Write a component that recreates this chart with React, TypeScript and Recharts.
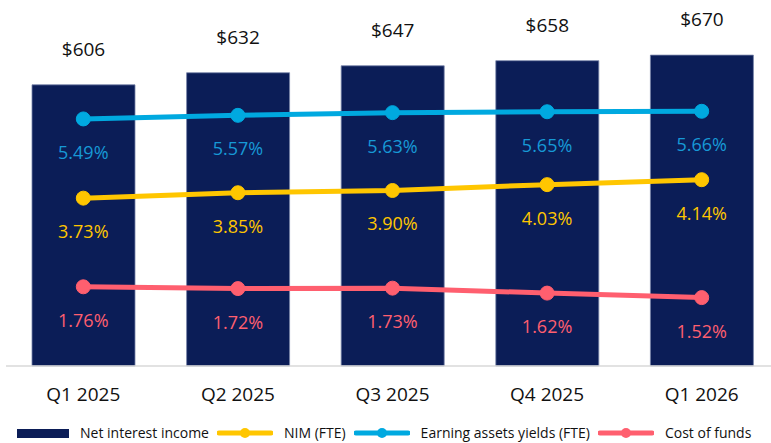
import { ComposedChart, Bar, Line, XAxis, YAxis, LabelList } from "recharts";

const quarters = ["Q1 2025", "Q2 2025", "Q3 2025", "Q4 2025", "Q1 2026"];
const netInterestIncome = [606, 632, 647, 658, 670];
const nimFte = [3.73, 3.85, 3.9, 4.03, 4.14];
const earningAssetsYield = [5.49, 5.57, 5.63, 5.65, 5.66];
const costOfFunds = [1.76, 1.72, 1.73, 1.62, 1.52];

const NAVY = "#0b1d57";
const YELLOW = "#ffc600";
const CYAN = "#00a9e0";
const PINK = "#ff5f6f";
const FONT = "'Open Sans', sans-serif";

const data = quarters.map((q, i) => ({
  quarter: q,
  nii: netInterestIncome[i],
  nim: nimFte[i],
  eay: earningAssetsYield[i],
  cof: costOfFunds[i],
}));

const legendItems = [
  { name: "Net interest income", color: NAVY, kind: "bar" },
  { name: "NIM (FTE)", color: YELLOW, kind: "line" },
  { name: "Earning assets yields (FTE)", color: CYAN, kind: "line" },
  { name: "Cost of funds", color: PINK, kind: "line" },
];

function pctLabel(color: string) {
  return (props: any) => {
    const { x, y, value } = props;
    return (
      <text
        x={x}
        y={y + 33}
        textAnchor="middle"
        dominantBaseline="central"
        fill={color}
        fontSize={18}
        fontFamily={FONT}
      >
        {`${Number(value).toFixed(2)}%`}
      </text>
    );
  };
}

function BarTopLabel(props: any) {
  const { x, y, width, value } = props;
  return (
    <text
      x={x + width / 2}
      y={y - 36}
      textAnchor="middle"
      dominantBaseline="central"
      fill="#111"
      fontSize={19}
      fontFamily={FONT}
    >
      {`$${value}`}
    </text>
  );
}

function QuarterTick(props: any) {
  const { x, payload } = props;
  return (
    <text
      x={x}
      y={394}
      textAnchor="middle"
      dominantBaseline="central"
      fill="#111"
      fontSize={19}
      fontFamily={FONT}
    >
      {payload.value}
    </text>
  );
}

function Legend() {
  return (
    <div
      style={{
        position: "absolute",
        left: 17,
        top: 425,
        height: 16,
        display: "flex",
        alignItems: "center",
        fontFamily: FONT,
        fontSize: 14,
        lineHeight: "16px",
        color: "#111",
        whiteSpace: "nowrap",
      }}
    >
      {legendItems.map((it) => (
        <div key={it.name} style={{ display: "flex", alignItems: "center", marginRight: 8 }}>
          {it.kind === "bar" ? (
            <div style={{ width: 52, height: 9, background: it.color }} />
          ) : (
            <svg width={56} height={12} style={{ display: "block" }}>
              <line x1={2} y1={6} x2={54} y2={6} stroke={it.color} strokeWidth={5} strokeLinecap="round" />
              <circle cx={28} cy={6} r={5} fill={it.color} />
            </svg>
          )}
          <span style={{ marginLeft: 11 }}>{it.name}</span>
        </div>
      ))}
    </div>
  );
}

export default function App() {
  return (
    <div
      style={{
        position: "absolute",
        left: 0,
        top: 0,
        width: 771,
        height: 443,
        overflow: "hidden",
        background: "#fff",
      }}
    >
      <ComposedChart
        width={779}
        height={406}
        data={data}
        margin={{ top: 18, right: 0, bottom: 0, left: 6 }}
        barCategoryGap={52}
      >
        <XAxis
          dataKey="quarter"
          height={40}
          tickLine={false}
          tickSize={0}
          axisLine={{ stroke: "#d9d9d9", strokeWidth: 1.5 }}
          tick={QuarterTick}
          interval={0}
        />
        <YAxis yAxisId="left" hide domain={[0, 750]} />
        <YAxis yAxisId="right" orientation="right" hide domain={[0, 7.733]} />
        <Bar
          yAxisId="left"
          dataKey="nii"
          fill={NAVY}
          stroke="#7683a8"
          strokeWidth={0.8}
          barSize={103}
          isAnimationActive={false}
        >
          <LabelList dataKey="nii" content={BarTopLabel} />
        </Bar>
        <Line
          yAxisId="right"
          dataKey="eay"
          stroke={CYAN}
          strokeWidth={5}
          dot={{ r: 7, fill: CYAN, stroke: CYAN, strokeWidth: 1 }}
          isAnimationActive={false}
        >
          <LabelList dataKey="eay" content={pctLabel("#1799d6")} />
        </Line>
        <Line
          yAxisId="right"
          dataKey="nim"
          stroke={YELLOW}
          strokeWidth={5}
          dot={{ r: 7, fill: YELLOW, stroke: YELLOW, strokeWidth: 1 }}
          isAnimationActive={false}
        >
          <LabelList dataKey="nim" content={pctLabel(YELLOW)} />
        </Line>
        <Line
          yAxisId="right"
          dataKey="cof"
          stroke={PINK}
          strokeWidth={5}
          dot={{ r: 7, fill: PINK, stroke: PINK, strokeWidth: 1 }}
          isAnimationActive={false}
        >
          <LabelList dataKey="cof" content={pctLabel(PINK)} />
        </Line>
      </ComposedChart>
      <Legend />
    </div>
  );
}
